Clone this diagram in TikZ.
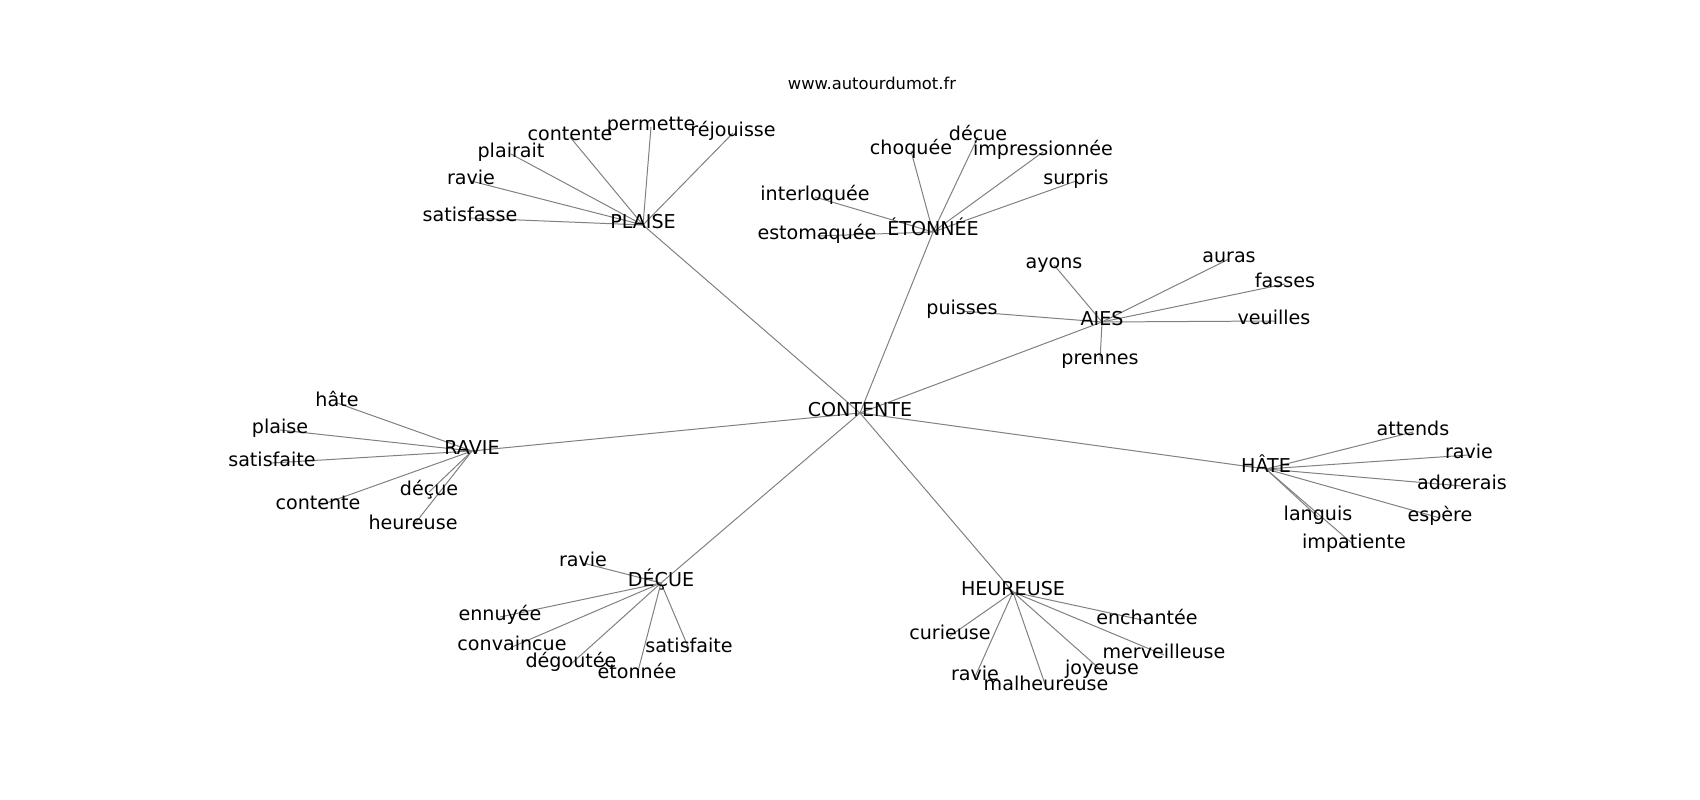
\documentclass[tikz,border=0pt]{standalone}
\usepackage{fontspec}
\setmainfont{DejaVu Sans}
\pgfdeclarelayer{background}
\pgfsetlayers{background,main}
\tikzset{
	mot/.style={inner sep=0pt, text height=0.75em, text depth=0.2em, yshift=-0.04in, font=\fontsize{13.8}{16}\selectfont},
	lien/.style={line width=0.72pt, color=black!50},
}

\begin{document}
\begin{tikzpicture}[x=0.01in, y=-0.01in]
		%%%%% START %%%%%
		\useasboundingbox (0, 0) rectangle (1700, 800);
		
		\node[inner sep=0pt, font=\fontsize{11.8}{14}\selectfont] (titre) at (872, 83) {www.autourdumot.fr};
		
		\node[mot] (contente) at (860, 409) {CONTENTE};
		
		\node[mot] (plaise) at (643, 221) {PLAISE};
		\node[mot] (p-satisfasse) at (470, 214) {satisfasse};
		\node[mot] (p-ravie) at (471, 177) {ravie};
		\node[mot] (p-plairait) at (511, 150) {plairait};
		\node[mot] (p-contente) at (570, 133) {contente};
		\node[mot] (p-permette) at (651, 123) {permette};
		\node[mot] (p-rejouisse) at (733, 129) {réjouisse};
		
		\node[mot] (etonnee) at (933, 228) {ÉTONNÉE};
		\node[mot] (e-estomaquee) at (817, 232) {estomaquée};
		\node[mot] (e-interloquee) at (815, 193) {interloquée};
		\node[mot] (e-choquee) at (911, 147) {choquée};
		\node[mot] (e-decue) at (978, 133) {décue};
		\node[mot] (e-impressionnee) at (1043, 148) {impressionnée};
		\node[mot] (e-surpris) at (1076, 177) {surpris};
		
		\node[mot] (aies) at (1102, 318) {AIES};
		\node[mot] (a-ayons) at (1054, 261) {ayons};
		\node[mot] (a-auras) at (1229, 255) {auras};
		\node[mot] (a-fasses) at (1285, 280) {fasses};
		\node[mot] (a-veuilles) at (1274, 317) {veuilles};
		\node[mot] (a-puisses) at (962, 307) {puisses};
		\node[mot] (a-prennes) at (1100, 357) {prennes};
		
		\node[mot] (ravie) at (472, 447) {RAVIE};
		\node[mot] (r-hate) at (337, 399) {hâte};
		\node[mot] (r-plaise) at (280, 426) {plaise};
		\node[mot] (r-satisfaite) at (272, 459) {satisfaite};
		\node[mot] (r-contente) at (318, 502) {contente};
		\node[mot] (r-decue) at (429, 488) {déçue};
		\node[mot] (r-heureuse) at (413, 522) {heureuse};
		
		\node[mot] (hate) at (1266, 465) {HÂTE};
		\node[mot] (h-attends) at (1413, 428) {attends};
		\node[mot] (h-ravie) at (1469, 451) {ravie};
		\node[mot] (h-adorerais) at (1462, 482) {adorerais};
		\node[mot] (h-espere) at (1440, 514) {espère};
		\node[mot] (h-languis) at (1318, 513) {languis};
		\node[mot] (h-impatiente) at (1354, 541) {impatiente};
		
		\node[mot] (decue) at (661, 579) {DÉÇUE};
		\node[mot] (d-ravie) at (583, 559) {ravie};
		\node[mot] (d-ennuyee) at (500, 613) {ennuyée};
		\node[mot] (d-convaincue) at (512, 643) {convaincue};
		\node[mot] (d-degoutee) at (571, 660) {dégoutée};
		\node[mot] (d-etonnee) at (637, 671) {étonnée};
		\node[mot] (d-satisfaite) at (689, 645) {satisfaite};
		
		\node[mot] (heureuse) at (1013, 588) {HEUREUSE};
		\node[mot] (u-enchantee) at (1147, 617) {enchantée};
		\node[mot] (u-curieuse) at (950, 632) {curieuse};
		\node[mot] (u-merveilleuse) at (1164, 651) {merveilleuse};
		\node[mot] (u-ravie) at (975, 673) {ravie};
		\node[mot] (u-malheureuse) at (1046, 683) {malheureuse};
		\node[mot] (u-joyeuse) at (1102, 667) {joyeuse};
		
		\begin{pgfonlayer}{background}
		\foreach \m in {plaise, etonnee, aies, ravie, hate, decue, heureuse}
			\draw[lien] (contente.center) -- (\m.center);
		\foreach \m in {satisfasse, ravie, plairait, contente, permette, rejouisse}
			\draw[lien] (plaise.center) -- (p-\m.center);
		\foreach \m in {estomaquee, interloquee, choquee, decue, impressionnee, surpris}
			\draw[lien] (etonnee.center) -- (e-\m.center);
		\foreach \m in {ayons, auras, fasses, veuilles, puisses, prennes}
			\draw[lien] (aies.center) -- (a-\m.center);
		\foreach \m in {hate, plaise, satisfaite, contente, decue, heureuse}
			\draw[lien] (ravie.center) -- (r-\m.center);
		\foreach \m in {attends, ravie, adorerais, espere, languis, impatiente}
			\draw[lien] (hate.center) -- (h-\m.center);
		\foreach \m in {ravie, ennuyee, convaincue, degoutee, etonnee, satisfaite}
			\draw[lien] (decue.center) -- (d-\m.center);
		\foreach \m in {enchantee, curieuse, merveilleuse, ravie, malheureuse, joyeuse}
			\draw[lien] (heureuse.center) -- (u-\m.center);
		\end{pgfonlayer}
		
		%%%%% END %%%%%
\end{tikzpicture}
\end{document}
